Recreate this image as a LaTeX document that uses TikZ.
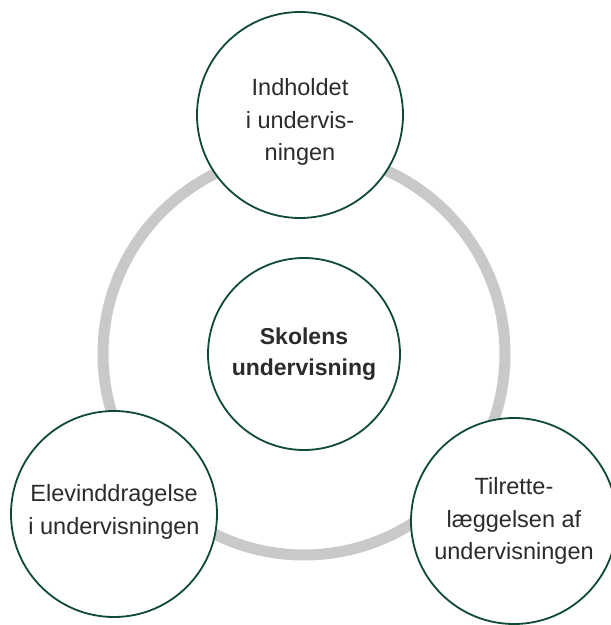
\documentclass[tikz,border=0pt]{standalone}
\usepackage{fontspec}
\setmainfont{Liberation Sans}
\definecolor{ringgray}{HTML}{C8C9CB}
\definecolor{darkgreen}{HTML}{0E4B32}
\definecolor{txt}{HTML}{2B2B2B}
\begin{document}
\begin{tikzpicture}[x=1pt,y=1pt,
  bubble/.style={circle,draw=darkgreen,line width=1.8pt,fill=white,minimum size=206pt,inner sep=0pt,align=center,text=txt,font=\fontsize{23.5}{32.5}\selectfont},
  bubbletext/.style={align=center,text=txt,inner sep=0pt,font=\fontsize{23.5}{32.5}\selectfont},
  hub/.style={bubble,minimum size=192pt,font=\fontsize{23}{31}\selectfont\bfseries}]
\useasboundingbox (0,0) rectangle (611,625);
\coordinate (ringc) at (304,271);
\draw[ringgray,line width=11pt] (ringc) circle[radius=201];
\node[hub] (center) at (304,271) {Skolens\\undervisning};
\node[bubble] (top) at (300,510) {};
\node[bubbletext] (toptext) at ([yshift=-7pt]top.center) {Indholdet\\i undervis-\\ningen};
\node[bubble] (left) at (114,111) {};
\node[bubbletext] (lefttext) at ([yshift=2pt]left.center) {Elevinddragelse\\i undervisningen};
\node[bubble] (right) at (514,104) {Tilrette-\\læggelsen af\\undervisningen};
\end{tikzpicture}
\end{document}
